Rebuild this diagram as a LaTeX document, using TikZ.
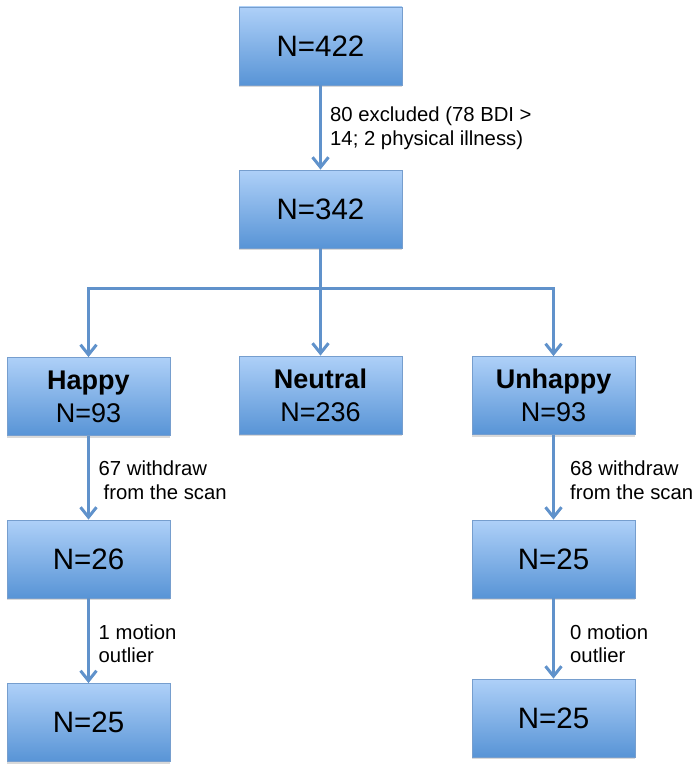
\documentclass[tikz,border=0pt]{standalone}
\usepackage{fontspec}
\setmainfont{Liberation Sans}
\usepackage{tikz}
\usetikzlibrary{
  arrows.meta,
  positioning,
  shadows
}
\definecolor{flowblue}{RGB}{96,146,203}
\definecolor{boxtop}{RGB}{174,208,248}
\definecolor{boxbottom}{RGB}{88,148,214}
\definecolor{boxline}{RGB}{118,158,206}

\begin{document}
\begin{tikzpicture}[
    x=1pt, y=-1pt,
    >={Straight Barb[length=10pt,width=16pt]},
    box/.style={draw=boxline, line width=0.8pt,
      top color=boxtop, bottom color=boxbottom,
      minimum width=163pt, minimum height=78pt, inner sep=0pt,
      align=center, font=\fontsize{29.5}{34}\selectfont,
      drop shadow={shadow xshift=0pt, shadow yshift=-2pt, opacity=0.3}},
    groupbox/.style={box, font=\fontsize{27}{33}\selectfont},
    flow/.style={draw=flowblue, line width=3pt},
    note/.style={anchor=west, align=left, inner sep=0pt,
      font=\fontsize{20.3}{23.5}\selectfont}
    ]
    
    \useasboundingbox (0,0) rectangle (696,768);
    
    \node[box] (all) at (320.5,46) {N=422};
    \node[box] (kept) at (320.5,209) {N=342};
    
    \node[groupbox] (happy) at (88.5,396.5) {\textbf{Happy}\\N=93};
    \node[groupbox] (neutral) at (320.5,395) {\textbf{Neutral}\\N=236};
    \node[groupbox] (unhappy) at (553.5,395.5) {\textbf{Unhappy}\\N=93};
    
    \node[box] (happyscan) at (88.5,559) {N=26};
    \node[box] (unhappyscan) at (553.5,559) {N=25};
    \node[box] (happyfinal) at (88.5,722.5) {N=25};
    \node[box] (unhappyfinal) at (553.5,718) {N=25};
    
    \coordinate (split) at (320.5,288);
    
    \draw[flow,->] (all) -- (kept);
    \draw[flow] (kept) -- (split);
    \draw[flow,->] (split) -| (happy);
    \draw[flow,->] (split) -- (neutral);
    \draw[flow,->] (split) -| (unhappy);
    \draw[flow,->] (happy) -- (happyscan);
    \draw[flow,->] (unhappy) -- (unhappyscan);
    \draw[flow,->] (happyscan) -- (happyfinal);
    \draw[flow,->] (unhappyscan) -- (unhappyfinal);
    
    \node[note] (excl) at (330,128.5)
    {80 excluded (78 BDI >\\14; 2 physical illness)};
    \node[note] (happyout) at (98.5,480)
    {67 withdraw\\\hspace{5pt}from the scan};
    \node[note] (unhappyout) at (570,480)
    {68 withdraw\\from the scan};
    \node[note] (happymotion) at (98.5,643.5)
    {1 motion\\outlier};
    \node[note] (unhappymotion) at (570,643.5)
    {0 motion\\outlier};
    
\end{tikzpicture}
\end{document}
